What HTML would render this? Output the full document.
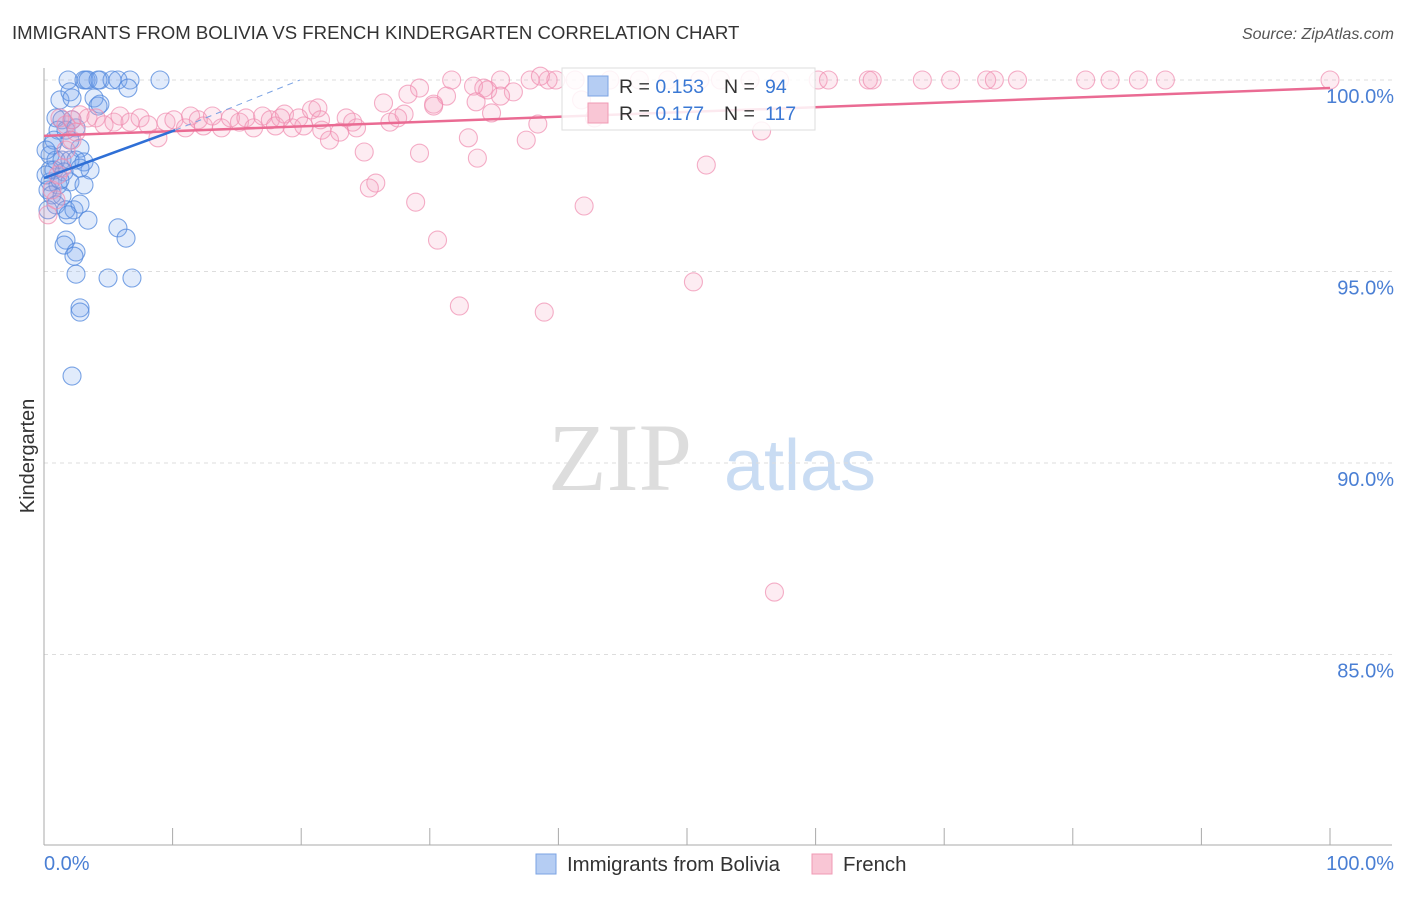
<!DOCTYPE html>
<html><head><meta charset="utf-8"><style>
body{margin:0;background:#fff;font-family:"Liberation Sans",sans-serif;}
</style></head><body>
<svg width="1406" height="892" xmlns="http://www.w3.org/2000/svg">
<text x="12" y="39" font-size="18.6" fill="#333">IMMIGRANTS FROM BOLIVIA VS FRENCH KINDERGARTEN CORRELATION CHART</text>
<text x="1394" y="39" font-size="16" fill="#555" font-style="italic" text-anchor="end">Source: ZipAtlas.com</text>
<text x="620" y="490" font-size="96" fill="#ddd" font-family="Liberation Serif,serif" text-anchor="middle">ZIP</text>
<text x="800" y="490" font-size="72" fill="#c9dcf3" text-anchor="middle">atlas</text>
<g id="grid"></g><g id="axes"></g><g id="pts"></g><g id="trend"></g>
<text transform="translate(34,456) rotate(-90)" font-size="20" fill="#333" text-anchor="middle">Kindergarten</text>
<text x="44" y="870" font-size="20" fill="#4a7fd4">0.0%</text>
<text x="1394" y="870" font-size="20" fill="#4a7fd4" text-anchor="end">100.0%</text>
<g>
<rect x="536" y="854" width="20" height="20" fill="#b5cdf3" stroke="#7ba3e3"/>
<text x="567" y="871" font-size="20.4" fill="#333">Immigrants from Bolivia</text>
<rect x="812" y="854" width="20" height="20" fill="#f9c6d5" stroke="#f09ab4"/>
<text x="843" y="871" font-size="20.4" fill="#333">French</text>
</g>
<g>
<rect x="562" y="68" width="253" height="62" fill="#fff" fill-opacity="0.85" stroke="#ddd"/>
<rect x="588" y="76" width="20" height="20" fill="#b5cdf3" stroke="#7ba3e3"/>
<text x="619" y="93" font-size="19.5" fill="#333">R = <tspan fill="#3a78d4">0.153</tspan><tspan x="724">N = </tspan><tspan x="765" fill="#3a78d4">94</tspan></text>
<rect x="588" y="103" width="20" height="20" fill="#f9c6d5" stroke="#f09ab4"/>
<text x="619" y="120" font-size="19.5" fill="#333">R = <tspan fill="#3a78d4">0.177</tspan><tspan x="724">N = </tspan><tspan x="765" fill="#3a78d4">117</tspan></text>
</g>
</svg>
<script>
const yTicks=[100,95,90,85];
const xTicks=[0,10,20,30,40,50,60,70,80,90,100];
const blueX=[1.87,3.11,3.27,3.42,4.35,5.29,5.75,6.69,9.02,4.2,6.53,1.24,2.02,2.18,3.89,4.2,4.35,0.93,1.4,2.18,1.09,1.71,2.49,2.8,0.62,0.47,0.93,1.4,2.02,2.49,3.11,3.58,2.8,0.78,1.56,0.47,1.09,2.02,3.11,0.31,0.62,1.4,0.93,1.71,2.33,2.8,1.87,3.42,5.75,6.38,1.71,1.56,2.49,2.33,2.49,4.98,6.84,2.8,2.8,2.18,0.31,0.47,1.24,0.78,2.02,0.16,0.16];
const blueY=[100,100,100,100,100,100,100,100,100,100,99.79,99.48,99.69,99.53,99.53,99.32,99.37,99.01,98.96,98.96,98.69,98.69,98.75,98.22,98.3,98.04,97.91,97.91,97.91,97.91,97.86,97.65,97.7,97.65,97.6,97.34,97.26,97.34,97.26,97.13,97.0,96.97,96.74,96.61,96.61,96.76,96.48,96.34,96.14,95.87,95.82,95.69,95.51,95.4,94.93,94.83,94.83,94.05,93.94,92.27,96.61,97.65,97.39,98.43,98.43,98.17,97.52];
const pinkX=[31.7,35.5,37.8,39.2,39.8,41.3,44.0,46.3,48.5,51.0,52.6,54.9,57.2,60.2,61.0,64.1,64.4,68.3,70.5,73.3,73.9,75.7,81.0,82.9,85.1,87.2,100,33.4,29.2,28.3,31.3,34.2,34.5,36.5,35.5,38.6,26.4,30.3,33.6,30.3,34.8,38.4,33.0,37.5,33.7,29.2,24.9,25.8,25.3,28.9,30.6,42.0,51.5,55.8,50.5,32.3,38.9,56.8,41.8,42.8,1.24,1.71,2.18,2.8,3.42,4.04,4.67,5.44,5.91,6.69,7.47,8.09,8.86,9.49,10.1,11.0,11.4,12.0,12.4,13.1,13.8,14.5,15.2,15.7,16.3,17.0,17.6,18.0,18.7,19.3,19.8,20.2,20.8,21.3,21.6,22.2,23.0,23.5,24.0,24.3,26.9,27.5,28.0,0.93,0.31,0.62,1.09,1.71,2.18,1.4,2.49,18.4,21.5];
const pinkY=[100,100,100,100,100,100,100,100,100,100,100,100,100,100,100,100,100,100,100,100,100,100,100,100,100,100,100,99.84,99.79,99.63,99.58,99.79,99.74,99.69,99.58,100.1,99.4,99.37,99.43,99.32,99.14,98.85,98.49,98.43,97.96,98.09,98.12,97.31,97.18,96.81,95.82,96.71,97.78,98.67,94.73,94.1,93.94,86.63,99.48,99.01,99.01,98.83,98.96,99.09,99.01,99.01,98.83,98.9,99.06,98.9,99.01,98.83,98.49,98.9,98.96,98.75,99.06,98.96,98.8,99.06,98.75,99.01,98.9,99.01,98.75,99.06,98.96,98.8,99.11,98.75,99.01,98.8,99.22,99.27,98.69,98.43,98.64,99.01,98.9,98.75,98.9,99.01,99.11,96.87,96.48,97.13,97.52,98.17,98.43,97.7,98.64,99.01,98.96];
const blueTrend=[[0,97.44],[10.2,98.69]];
const blueDash=[[10.2,98.69],[19.9,100]];
const pinkTrend=[[0,98.54],[100,99.79]];
const NS='http://www.w3.org/2000/svg';
const X=v=>44+v*12.86, Y=v=>80+(100-v)*38.3;
function mk(t,a,p){const e=document.createElementNS(NS,t);for(const k in a)e.setAttribute(k,a[k]);document.getElementById(p).appendChild(e);return e;}
yTicks.forEach(t=>{
 const l=mk('line',{x1:44,x2:1392,y1:Y(t),y2:Y(t),stroke:'#ddd','stroke-dasharray':'4,4'},'grid');
 
 
 const tx=mk('text',{x:1394,y:Y(t)+23,'font-size':20,fill:'#4a7fd4','text-anchor':'end'},'grid');
 tx.textContent=t.toFixed(1)+'%';
 
 
});
const ax=mk('line',{x1:44,x2:44,y1:68,y2:845,stroke:'#aaa'},'axes');


const bx=mk('line',{x1:44,x2:1392,y1:845,y2:845,stroke:'#aaa'},'axes');


xTicks.forEach(t=>{
 const l=mk('line',{x1:X(t),x2:X(t),y1:828,y2:845,stroke:'#aaa'},'axes');
 
 
});
blueX.forEach((x,i)=>{
 const c=mk('circle',{cx:X(x),cy:Y(blueY[i]),r:9,fill:'rgba(120,165,235,0.22)',stroke:'rgba(80,135,220,0.75)','stroke-width':1.1},'pts');
 
 
});
pinkX.forEach((x,i)=>{
 const c=mk('circle',{cx:X(x),cy:Y(pinkY[i]),r:9,fill:'rgba(245,160,188,0.2)',stroke:'rgba(240,140,175,0.7)','stroke-width':1.1},'pts');
 
 
});
const pt=mk('line',{x1:X(pinkTrend[0][0]),y1:Y(pinkTrend[0][1]),x2:X(pinkTrend[1][0]),y2:Y(pinkTrend[1][1]),stroke:'#ea6b93','stroke-width':2.5},'trend');


const bt=mk('line',{x1:X(blueTrend[0][0]),y1:Y(blueTrend[0][1]),x2:X(blueTrend[1][0]),y2:Y(blueTrend[1][1]),stroke:'#2f6fd6','stroke-width':2.5},'trend');


const bd=mk('line',{x1:X(blueDash[0][0]),y1:Y(blueDash[0][1]),x2:X(blueDash[1][0]),y2:Y(blueDash[1][1]),stroke:'#7ba3e3','stroke-width':1,'stroke-dasharray':'6,5'},'trend');


</script>
</body></html>
